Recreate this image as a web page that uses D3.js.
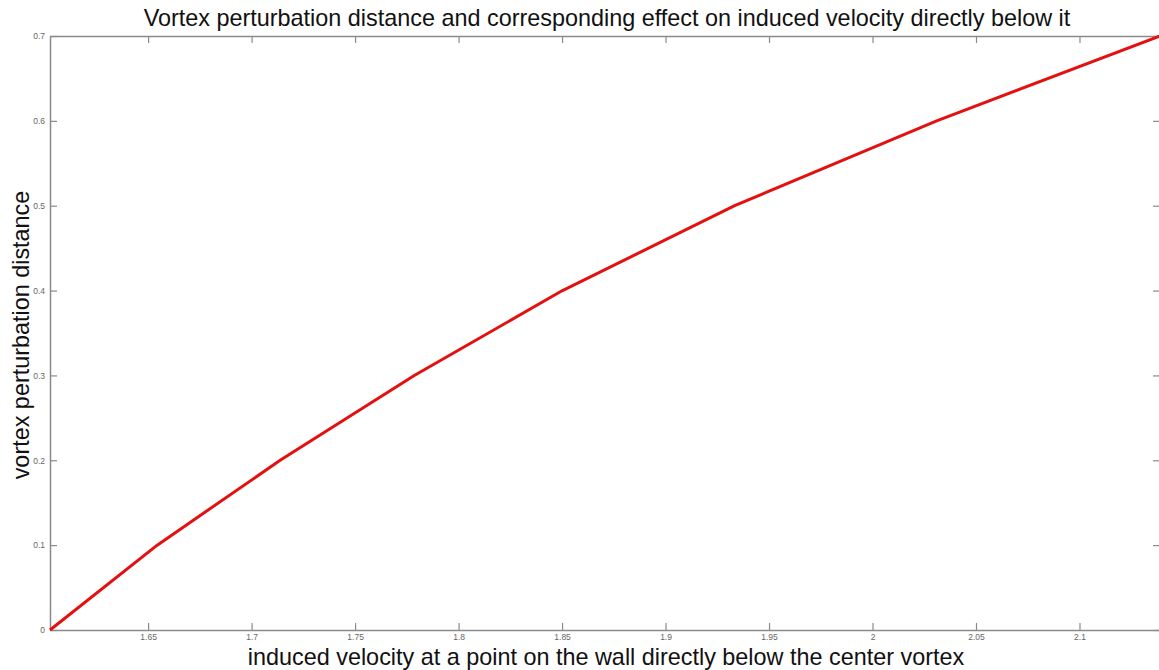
<!DOCTYPE html>
<html>
<head>
<meta charset="utf-8">
<script src="https://cdn.jsdelivr.net/npm/d3@7"></script>
<style>
  body { margin: 0; background: #fff; }
  svg { display: block; }
  .tick text { font-family: "Liberation Sans", Arial, sans-serif; font-size: 8.5px; fill: #666; }
  .label { font-family: "Liberation Sans", Arial, sans-serif; font-size: 23.4px; fill: #111; }
</style>
</head>
<body>
<div id="chart"></div>
<script>
// induced velocity (x) vs perturbation distance (y)
const velocity = [1.6026, 1.6544, 1.7138, 1.7786, 1.8502, 1.9334, 2.0310, 2.1389];
const distance = [0, 0.1, 0.2, 0.3, 0.4, 0.5, 0.6, 0.7];
const xTicks = [1.65, 1.7, 1.75, 1.8, 1.85, 1.9, 1.95, 2, 2.05, 2.1];
const yTicks = [0, 0.1, 0.2, 0.3, 0.4, 0.5, 0.6, 0.7];

const width = 1159, height = 670;
const margin = {top: 36, right: -1, bottom: 40, left: 50};

let svg = d3.select("#chart").append("svg")
  .attr("width", width)
  .attr("height", height);

let x = d3.scaleLinear()
  .domain([velocity[0], velocity[velocity.length - 1]])
  .range([margin.left, width - margin.right]);

let y = d3.scaleLinear()
  .domain([0, 0.7])
  .range([height - margin.bottom, margin.top]);

let fmt = d => String(d);
let axisColor = "#8a8a8a";

// bottom / top / left / right axes, ticks pointing inward
let axBottom = svg.append("g")
  .attr("transform", "translate(0," + y(0) + ")")
  .call(d3.axisBottom(x).tickValues(xTicks).tickFormat(fmt).tickSizeInner(-7).tickSizeOuter(0).tickPadding(4));

let axTop = svg.append("g")
  .attr("transform", "translate(0," + y(0.7) + ")")
  .call(d3.axisTop(x).tickValues(xTicks).tickFormat("").tickSizeInner(-7).tickSizeOuter(0));

let axLeft = svg.append("g")
  .attr("transform", "translate(" + margin.left + ",0)")
  .call(d3.axisLeft(y).tickValues(yTicks).tickFormat(fmt).tickSizeInner(-7).tickSizeOuter(0).tickPadding(5));

let axRight = svg.append("g")
  .attr("transform", "translate(" + (width - margin.right) + ",0)")
  .call(d3.axisRight(y).tickValues(yTicks).tickFormat("").tickSizeInner(-7).tickSizeOuter(0));

[axBottom, axTop, axLeft, axRight].forEach(g => {
  g.select(".domain").attr("stroke", axisColor).attr("stroke-width", 1.5);
  g.selectAll(".tick line").attr("stroke", axisColor).attr("stroke-width", 1.2);
});

// the curve
let line = d3.line()
  .x((d, i) => x(velocity[i]))
  .y(d => y(d));

svg.append("path")
  .datum(distance)
  .attr("fill", "none")
  .attr("stroke", "#e41010")
  .attr("stroke-width", 3)
  .attr("stroke-linejoin", "round")
  .attr("d", line);

// titles
svg.append("text")
  .attr("class", "label")
  .attr("x", 607)
  .attr("y", 26)
  .attr("text-anchor", "middle")
  .text("Vortex perturbation distance and corresponding effect on induced velocity directly below it");

svg.append("text")
  .attr("class", "label")
  .attr("x", 606)
  .attr("y", 665)
  .attr("text-anchor", "middle")
  .text("induced velocity at a point on the wall directly below the center vortex");

svg.append("text")
  .attr("class", "label")
  .attr("transform", "translate(29," + 335 + ") rotate(-90)")
  .attr("text-anchor", "middle")
  .text("vortex perturbation distance");
</script>
</body>
</html>
